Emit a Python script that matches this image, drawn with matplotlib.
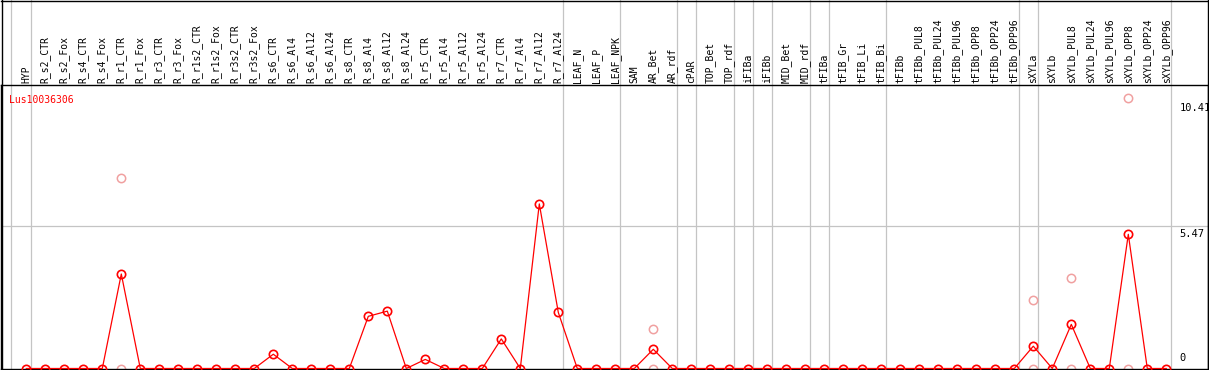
import matplotlib
matplotlib.use("Agg")
import matplotlib.pyplot as plt
from matplotlib.lines import Line2D
import numpy as np

categories = [
    "HYP",
    "R_s2_CTR", "R_s2_Fox", "R_s4_CTR", "R_s4_Fox", "R_r1_CTR", "R_r1_Fox",
    "R_r3_CTR", "R_r3_Fox", "R_r1s2_CTR", "R_r1s2_Fox", "R_r3s2_CTR", "R_r3s2_Fox",
    "R_s6_CTR", "R_s6_Al4", "R_s6_Al12", "R_s6_Al24", "R_s8_CTR", "R_s8_Al4",
    "R_s8_Al12", "R_s8_Al24", "R_r5_CTR", "R_r5_Al4", "R_r5_Al12", "R_r5_Al24",
    "R_r7_CTR", "R_r7_Al4", "R_r7_Al12", "R_r7_Al24",
    "LEAF_N", "LEAF_P", "LEAF_NPK",
    "SAM", "AR_Bet", "AR_rdf",
    "cPAR",
    "TOP_Bet", "TOP_rdf",
    "iFIBa",
    "iFIBb",
    "MID_Bet", "MID_rdf",
    "tFIBa",
    "tFIB_Gr", "tFIB_Li", "tFIB_Bi",
    "tFIBb", "tFIBb_PUL8", "tFIBb_PUL24", "tFIBb_PUL96", "tFIBb_OPP8", "tFIBb_OPP24", "tFIBb_OPP96",
    "sXYLa",
    "sXYLb", "sXYLb_PUL8", "sXYLb_PUL24", "sXYLb_PUL96", "sXYLb_OPP8", "sXYLb_OPP24", "sXYLb_OPP96",
]

group_sizes = [1, 28, 3, 3, 1, 2, 1, 1, 2, 1, 3, 7, 1, 7]

mean_values = [
    0,
    0, 0, 0, 0, 3.64, 0,
    0, 0, 0, 0, 0, 0,
    0.55, 0, 0, 0, 0, 2.01,
    2.21, 0, 0.35, 0, 0, 0,
    1.14, 0, 6.34, 2.16,
    0, 0, 0,
    0, 0.74, 0,
    0,
    0, 0,
    0,
    0,
    0, 0,
    0,
    0, 0, 0,
    0, 0, 0, 0, 0, 0, 0,
    0.86,
    0, 1.70, 0, 0, 5.17, 0, 0,
]

replicate_labels = ["R_r1_CTR", "R_r1_CTR", "AR_Bet", "AR_Bet", "sXYLa", "sXYLa",
                    "sXYLb_PUL8", "sXYLb_PUL8", "sXYLb_OPP8", "sXYLb_OPP8"]
replicate_values = [7.34, 0, 1.51, 0, 2.63, 0, 3.47, 0, 10.41, 0]

axis_ticks = [0, 5.47, 10.41]
axis_tick_labels = ["0", "5.47", "10.41"]
gene_name = "Lus10036306"

W, H = 1209, 370
fig = plt.figure(figsize=(W / 100, H / 100), dpi=100)
fig.patch.set_facecolor("white")

ax_left, ax_right = 1 / W, 1208 / W
ax_top_px, ax_bot_px = 85, 368.5
ax = fig.add_axes([ax_left, (H - ax_bot_px) / H, ax_right - ax_left, (ax_bot_px - ax_top_px) / H])

x = np.arange(len(categories))
pos = {c: i for i, c in enumerate(categories)}

px_per_cat = 19.0
x0_px = 26.3
ax.set_xlim((1 - x0_px) / px_per_cat, (1208 - x0_px) / px_per_cat)
px_per_unit = 25.96
ax.set_ylim(0, (ax_bot_px - ax_top_px) / px_per_unit)

ax.set_xticks([])
ax.set_yticks([])
for s in ax.spines.values():
    s.set_color("black")
    s.set_linewidth(1.0)

header_frac = 1 + ax_top_px / (ax_bot_px - ax_top_px)

# group separators
seps = list(np.cumsum(group_sizes) - 0.75)
seps = [-0.8] + seps
for sx in seps:
    ax.axvline(sx, ymin=0, ymax=header_frac, color="#c4c4c4", lw=0.9, clip_on=False, zorder=1)

# horizontal reference line
ax.axhline(axis_ticks[1], color="#c4c4c4", lw=0.9, zorder=1)

# replicate points
rx = [pos[c] for c in replicate_labels]
ax.plot(rx, replicate_values, linestyle="none", marker="o", markersize=6,
        markerfacecolor="none", markeredgecolor="#f0a0a0", markeredgewidth=1.1,
        clip_on=False, zorder=2)

# mean line
ax.plot(x, mean_values, color="red", lw=0.9, marker="o", markersize=6,
        markerfacecolor="none", markeredgecolor="red", markeredgewidth=1.2,
        clip_on=False, zorder=3)

# header labels
xt = ax.get_xaxis_transform()
label_y = 1 + 2.5 / (ax_bot_px - ax_top_px)
for i, c in enumerate(categories):
    ax.text(i, label_y, c, rotation=90, ha="center", va="bottom", transform=xt,
            fontsize=7, family="DejaVu Sans Mono", color="black", clip_on=False)

# gene name
ax.annotate(gene_name, xy=(0, 1), xycoords="axes fraction", xytext=(6, -7),
            textcoords="offset points", ha="left", va="top", fontsize=7,
            family="DejaVu Sans Mono", color="red")

# right axis labels
last_sep = seps[-1]
for v, lab in zip(axis_ticks, axis_tick_labels):
    if v == 0:
        ax.annotate(lab, xy=(last_sep, v), xytext=(6, 4), textcoords="offset points",
                    ha="left", va="bottom", fontsize=7.5, family="DejaVu Sans Mono", color="black")
    else:
        ax.annotate(lab, xy=(last_sep, v), xytext=(6, -1.5 if v < 8 else -3.5), textcoords="offset points",
                    ha="left", va="top", fontsize=7.5, family="DejaVu Sans Mono", color="black")

# outer border
fig.add_artist(Line2D([0.5 / W, 1208.5 / W], [1 - 0.5 / H, 1 - 0.5 / H], color="black", lw=1.0, transform=fig.transFigure))
fig.add_artist(Line2D([1.5 / W, 1.5 / W], [0, 1], color="black", lw=1.0, transform=fig.transFigure))
fig.add_artist(Line2D([1207.5 / W, 1207.5 / W], [0, 1], color="black", lw=1.0, transform=fig.transFigure))

fig.savefig("out.png", dpi=100, facecolor="white")
